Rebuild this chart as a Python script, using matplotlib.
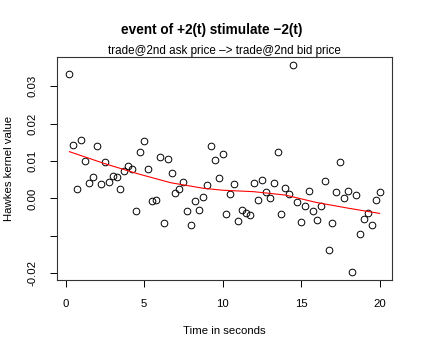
import numpy as np
import matplotlib
matplotlib.use("Agg")
import matplotlib.pyplot as plt

plt.rcParams['font.family'] = ['Liberation Sans', 'DejaVu Sans']

# kernel estimates, one every 0.25 s
times = np.arange(1, 81) * 0.25
kernel = [0.0332, 0.0143, 0.0024, 0.0155, 0.0100, 0.0042, 0.0058, 0.0141, 0.0039, 0.0097,
          0.0043, 0.0059, 0.0057, 0.0026, 0.0072, 0.0088, 0.0080, -0.0034, 0.0123, 0.0153,
          0.0079, -0.0007, -0.0003, 0.0110, -0.0065, 0.0106, 0.0069, 0.0014, 0.0026, 0.0044,
          -0.0034, -0.0071, -0.0006, -0.0032, 0.0005, 0.0036, 0.0141, 0.0102, 0.0054, 0.0120,
          -0.0042, 0.0013, 0.0038, -0.0060, -0.0030, -0.0040, -0.0044, 0.0041, -0.0005, 0.0049,
          0.0017, 0.0001, 0.0042, 0.0124, -0.0042, 0.0027, 0.0011, 0.0356, -0.0009, -0.0062,
          -0.0020, 0.0020, -0.0034, -0.0058, -0.0019, 0.0046, -0.0137, -0.0065, 0.0018, 0.0097,
          0.0001, 0.0019, -0.0196, 0.0008, -0.0096, -0.0055, -0.0038, -0.0072, -0.0004, 0.0016]

# smoothed fit (red line)
fit_x = [0.25, 2.5, 4.6, 6.7, 8.8, 10, 12, 14, 16, 18, 20]
fit_y = [0.0125, 0.0093, 0.0066, 0.0042, 0.0027, 0.0022, 0.0018, 0.0009, -0.0011, -0.0026, -0.0040]

xticks = [0, 5, 10, 15, 20]
yticks = [-0.02, -0.01, 0.00, 0.01, 0.02, 0.03]
ylabels = ["-0.02", "", "0.00", "0.01", "0.02", "0.03"]

fig = plt.figure(figsize=(4.23, 3.53), dpi=100)
ax = fig.add_axes([0.1348, 0.2068, 0.7919, 0.6317])

ax.plot(times, kernel, 'o', mfc='none', mec='black', ms=4.8, mew=0.7)
ax.plot(fit_x, fit_y, color='red', lw=0.8)

ax.set_xlim(-0.54, 20.79)
ax.set_ylim(-0.0218, 0.0378)
ax.set_xticks(xticks)
ax.set_yticks(yticks)
ax.set_yticklabels(ylabels, rotation=90, va='center')
ax.tick_params(direction='out', length=5, width=0.7, labelsize=8.2, pad=9)
for s in ax.spines.values():
    s.set_linewidth(0.8)
    s.set_color('#333333')

ax.set_xlabel("Time in seconds", fontsize=8.2, labelpad=12)
ax.set_ylabel("Hawkes kernel value", fontsize=8.2, labelpad=10)
fig.text(0.5, 1 - 30 / 353, "event of +2(t) stimulate \u22122(t)", fontsize=9.8,
         fontweight='bold', ha='center', va='center')
ax.set_title("trade@2nd ask price \u2013> trade@2nd bid price", fontsize=8.4, pad=2)

fig.savefig("out.png", dpi=100)
